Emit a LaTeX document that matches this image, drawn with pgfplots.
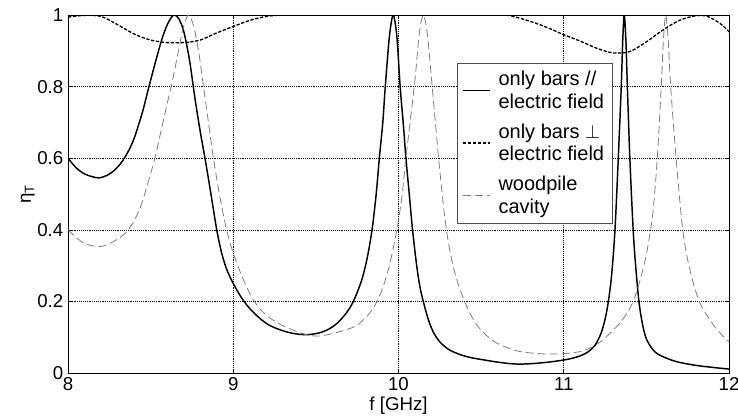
\documentclass[border=0pt]{standalone}
\usepackage{fontspec}
\setmainfont{Liberation Sans}
\usepackage{pgfplots}
\pgfplotsset{compat=1.18}

\definecolor{woodgray}{RGB}{125,125,125}

\begin{document}
\begin{tikzpicture}
\begin{axis}[
  width=495.75pt, height=268.5pt,
  scale only axis,
  xmin=8, xmax=12, ymin=0, ymax=1,
  xtick={8,9,10,11,12},
  ytick={0,0.2,0.4,0.6,0.8,1},
  /pgf/number format/assume math mode=true,
  font=\fontsize{14}{16}\selectfont,
  grid=major,
  major grid style={black, densely dotted, line width=0.4pt},
  axis line style={black, line width=0.6pt},
  tick style={black, line width=0.4pt},
  major tick length=3pt,
  tick align=inside,
  xlabel={f [GHz]},
  ylabel={η\textsubscript{T}},
  xlabel style={yshift=2pt},
  ylabel style={yshift=-5pt},
  legend cell align={left},
  legend style={at={(0.588,0.867)}, anchor=north west, draw=black!70,
    line width=0.6pt, fill=white, cells={align=left}, row sep=6pt,
    inner xsep=4pt, inner ysep=4pt,
    font=\fontsize{15}{17}\selectfont},
  legend image code/.code={\draw[#1] (0pt,0pt) -- (20pt,0pt); \path (24pt,0pt);},
]
% only bars // electric field
\addplot[black, line width=1.1pt, smooth] coordinates {
(8.00,0.600) (8.05,0.573) (8.10,0.556) (8.15,0.548) (8.19,0.545) (8.24,0.553)
(8.28,0.566) (8.32,0.586) (8.36,0.615) (8.40,0.655) (8.45,0.728) (8.49,0.800)
(8.53,0.870) (8.57,0.935) (8.60,0.972) (8.625,0.993) (8.645,1.000) (8.67,0.990)
(8.70,0.955) (8.735,0.875) (8.769,0.765) (8.80,0.675) (8.829,0.600) (8.865,0.500)
(8.90,0.400) (8.93,0.335) (8.96,0.290) (9.00,0.250) (9.05,0.210) (9.10,0.180)
(9.16,0.153) (9.22,0.133) (9.30,0.118) (9.37,0.110) (9.445,0.107) (9.52,0.112)
(9.58,0.123) (9.626,0.138) (9.68,0.165) (9.727,0.200) (9.777,0.259) (9.81,0.320)
(9.84,0.400) (9.865,0.500) (9.884,0.600) (9.905,0.700) (9.92,0.800) (9.945,0.940)
(9.968,1.000) (9.99,0.940) (10.01,0.800) (10.03,0.690) (10.045,0.600) (10.065,0.500)
(10.085,0.400) (10.11,0.300) (10.13,0.240) (10.15,0.200) (10.18,0.150) (10.21,0.115)
(10.25,0.087) (10.31,0.064) (10.41,0.046) (10.55,0.034) (10.64,0.028) (10.715,0.025)
(10.80,0.026) (10.90,0.030) (10.997,0.036) (11.05,0.041) (11.10,0.048) (11.15,0.060)
(11.19,0.078) (11.225,0.110) (11.25,0.150) (11.27,0.200) (11.29,0.275) (11.31,0.400)
(11.33,0.600) (11.348,0.800) (11.357,0.930) (11.366,1.000) (11.376,0.930) (11.385,0.800)
(11.40,0.600) (11.42,0.400) (11.435,0.300) (11.455,0.200) (11.475,0.140) (11.50,0.095)
(11.54,0.065) (11.58,0.050) (11.68,0.032) (11.82,0.020) (12.00,0.011)
};
\addlegendentry{only bars //\\electric field}
% only bars perpendicular to electric field
\addplot[black, line width=1.0pt, dash pattern=on 2.5pt off 1.2pt, smooth] coordinates {
(8.00,0.994) (8.10,0.999) (8.20,0.996) (8.30,0.973) (8.40,0.947) (8.50,0.930)
(8.60,0.923) (8.70,0.923) (8.80,0.930) (8.90,0.950) (9.00,0.968) (9.10,0.985)
(9.20,0.996) (9.30,1.000) (9.50,1.000) (10.00,1.000) (10.60,1.000) (10.70,0.995)
(10.80,0.982) (10.90,0.965) (11.00,0.945) (11.10,0.927) (11.20,0.907) (11.30,0.894)
(11.40,0.898) (11.50,0.925) (11.60,0.958) (11.70,0.985) (11.80,0.998) (11.87,0.996)
(11.95,0.975) (12.00,0.953)
};
\addlegendentry{only bars $\perp$\\electric field}
% woodpile cavity
\addplot[woodgray, line width=0.6pt, dash pattern=on 6pt off 3pt, smooth] coordinates {
(8.00,0.400) (8.05,0.378) (8.10,0.362) (8.15,0.355) (8.194,0.353) (8.24,0.359)
(8.30,0.374) (8.34,0.388) (8.365,0.400) (8.40,0.425) (8.44,0.465) (8.48,0.525)
(8.526,0.600) (8.56,0.670) (8.60,0.752) (8.627,0.805) (8.66,0.880) (8.695,0.960)
(8.728,1.000) (8.76,0.970) (8.79,0.900) (8.82,0.800) (8.85,0.700) (8.88,0.600)
(8.92,0.490) (8.96,0.400) (9.00,0.335) (9.06,0.262) (9.12,0.205) (9.18,0.170)
(9.25,0.145) (9.32,0.128) (9.42,0.110) (9.505,0.103) (9.60,0.110) (9.727,0.128)
(9.78,0.145) (9.83,0.170) (9.87,0.200) (9.91,0.245) (9.95,0.310) (9.99,0.400)
(10.02,0.490) (10.045,0.600) (10.075,0.720) (10.10,0.820) (10.125,0.945) (10.15,1.000)
(10.175,0.945) (10.20,0.820) (10.225,0.690) (10.25,0.565) (10.275,0.455) (10.30,0.370)
(10.33,0.300) (10.36,0.250) (10.40,0.200) (10.44,0.160) (10.49,0.125) (10.55,0.098)
(10.61,0.080) (10.715,0.062) (10.80,0.056) (10.90,0.053) (11.00,0.054) (11.10,0.060)
(11.17,0.072) (11.23,0.090) (11.28,0.111) (11.35,0.145) (11.41,0.190) (11.45,0.240)
(11.49,0.310) (11.515,0.370) (11.54,0.450) (11.566,0.600) (11.59,0.800) (11.603,0.930)
(11.617,1.000) (11.632,0.930) (11.647,0.800) (11.68,0.600) (11.72,0.400) (11.76,0.295)
(11.82,0.200) (11.90,0.138) (11.965,0.102) (12.00,0.088)
};
\addlegendentry{woodpile\\cavity}
\end{axis}
\pgfresetboundingbox
\path ([xshift=-51pt, yshift=-34.5pt]current axis.south west)
  rectangle ([xshift=6.75pt, yshift=11.25pt]current axis.north east);
\end{tikzpicture}
\end{document}
